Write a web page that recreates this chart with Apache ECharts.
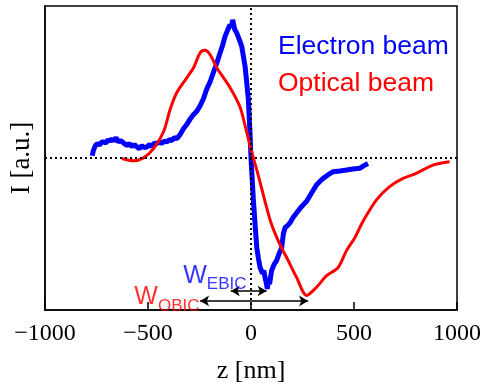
<!DOCTYPE html>
<html><head><meta charset="utf-8">
<script src="https://cdn.jsdelivr.net/npm/echarts@6/dist/echarts.min.js"></script>
<style>html,body{margin:0;padding:0;background:#fff}#c{width:486px;height:389px}</style>
</head><body><div id="c"></div>
<script>
// x axis
const xMin = -1000, xMax = 1000, xStep = 500;
const yMin = -100, yMax = 100;
// Electron beam (EBIC) [z nm, I a.u.]
const electronZ = [-771,-765,-755,-745,-735,-725,-715,-705,-695,-685,-675,-665,-655,-645,-634,-625,-615,-602,-590,-578,-566,-554,-542,-530,-518,-505,-493,-481,-469,-457,-445,-433,-420,-408,-396,-384,-372,-360,-344,-328,-312,-295,-280,-262,-247,-231,-215,-199,-183,-167,-150,-138,-126,-114,-102,-95,-89,-80,-69,-57,-45,-37,-29,-21,-13,-5,0,5,11,20,28,36,44,56,62,68,74,79,85,90,100,112,124,136,149,157,165,177,189,205,221,245,270,294,318,334,350,375,399,431,463,495,528,548,568];
const electronI = [1.5,5,8.3,9.5,8.5,10.5,10.6,9.8,12,11,12.7,11.2,13.5,10.5,11.6,12.5,9.5,8.3,9.5,7.5,8.8,7.3,6.2,8.2,6.8,7.3,8.9,7.6,9.8,9.4,10.8,9.5,11.2,10.6,12,11.5,13.5,12.7,15.5,19.2,22,25.7,28.5,31,34.4,39,45.3,50,56.1,62,69.2,74,80,84,87.6,86,90.9,85,82.2,78,73.5,67,60.5,50,38.8,17.1,0,-12,-26.4,-44,-59,-66,-72,-76,-74,-78.5,-82,-86.1,-80,-83,-74.1,-70,-67.6,-63,-59,-50,-45.9,-44.5,-42.7,-39,-36.2,-32,-28.5,-23,-17.7,-15.5,-13.4,-11,-9,-8.5,-7.9,-7.2,-6.8,-5,-3.6];
// Optical beam (OBIC)
const opticalZ = [-626,-570,-522,-473,-425,-392,-360,-311,-279,-247,-223,-199,-166,-102,-53,-29,-5,3,35,68,100,140,181,221,270,318,367,423,463,504,544,609,673,738,802,883,964];
const opticalI = [-0.3,-1.8,0.1,6.2,17.1,32.2,43.1,52.9,59.4,69.2,70.9,68.1,59.4,46.4,33.4,21.4,8.3,4,-11.2,-28.5,-43.8,-56.8,-67.6,-78.5,-90.4,-85,-77.4,-72,-61.1,-52.4,-41.6,-27.5,-18.8,-13.4,-10.1,-4.7,-2.5];
// width annotations
const ebicArrow = {from: -98, to: 76, level: -87.5};
const obicArrow = {from: -247, to: 277, level: -94};

const zip = (a, b) => a.map((v, i) => [v, b[i]]);
const serif = '"Liberation Serif","Times New Roman",serif';
const sans = '"Liberation Sans",Arial,sans-serif';

function arrowLine(a) {
  return {
    type: 'line', data: [], silent: true,
    markLine: {
      silent: true, symbol: ['arrow', 'arrow'], symbolSize: [8, 9],
      lineStyle: {color: '#000', width: 1.5, type: 'solid'}, label: {show: false},
      data: [[{coord: [a.from, a.level]}, {coord: [a.to, a.level]}]]
    }, z: 5
  };
}
function wLabel(text, color, x, y) {
  return {
    type: 'scatter', data: [[x, y]], symbolSize: 0, silent: true, z: 6,
    label: {
      show: true, position: [0, 0], align: 'right', verticalAlign: 'bottom',
      formatter: '{w|W}{s|' + text + '}',
      rich: {
        w: {fontFamily: sans, fontSize: 25, color: color, lineHeight: 24, verticalAlign: 'top'},
        s: {fontFamily: sans, fontSize: 17, color: color, lineHeight: 17, padding: [13, 0, 0, 0], verticalAlign: 'top'}
      }
    }
  };
}

const chart = echarts.init(document.getElementById('c'), null, {renderer: 'canvas'});
chart.setOption({
  animation: false,
  grid: {left: 44, right: 29, top: 6, bottom: 76, show: true, borderColor: '#000', borderWidth: 1.5, backgroundColor: 'transparent'},
  legend: {
    orient: 'vertical', left: 268, top: 28, itemGap: 10, itemWidth: 0, itemHeight: 0,
    icon: 'rect', selectedMode: false,
    textStyle: {fontFamily: sans, fontSize: 26.5},
    data: [
      {name: 'Electron beam', textStyle: {color: '#0000ff'}},
      {name: 'Optical beam', textStyle: {color: '#ff0000'}}
    ]
  },
  xAxis: {
    type: 'value', min: xMin, max: xMax, interval: xStep,
    axisLine: {onZero: false, lineStyle: {color: '#000', width: 1.5}},
    axisTick: {inside: true, length: 8, lineStyle: {color: '#000', width: 1.5}},
    axisLabel: {fontFamily: serif, fontSize: 24, color: '#000', margin: 12,
      formatter: v => (v < 0 ? '\u2212' + Math.abs(v) : String(v))},
    splitLine: {show: false},
    name: 'z [nm]', nameLocation: 'middle', nameGap: 48,
    nameTextStyle: {fontFamily: serif, fontSize: 26, color: '#000'}
  },
  yAxis: {
    type: 'value', min: yMin, max: yMax,
    axisLine: {show: true, onZero: false, lineStyle: {color: '#000', width: 1.5}},
    axisTick: {show: false}, axisLabel: {show: false}, splitLine: {show: false},
    name: 'I [a.u.]', nameLocation: 'middle', nameGap: 10,
    nameTextStyle: {fontFamily: serif, fontSize: 27, color: '#000'}
  },
  series: [
    {name: 'Electron beam', type: 'line', data: zip(electronZ, electronI), showSymbol: false,
      lineStyle: {color: '#0000ff', width: 5}, itemStyle: {color: '#0000ff'}, z: 2},
    {name: 'Optical beam', type: 'line', data: zip(opticalZ, opticalI), showSymbol: false, smooth: 0.3,
      lineStyle: {color: '#ff0000', width: 3}, itemStyle: {color: '#ff0000'}, z: 3},
    {type: 'line', data: [[0, yMin], [0, yMax]], showSymbol: false, silent: true,
      lineStyle: {color: '#000', width: 2, type: [2, 3]}, z: 4},
    {type: 'line', data: [[xMin, 0], [xMax, 0]], showSymbol: false, silent: true,
      lineStyle: {color: '#000', width: 2, type: [2, 3]}, z: 4},
    arrowLine(ebicArrow),
    arrowLine(obicArrow),
    wLabel('EBIC', '#0000ff', -22, -85),
    wLabel('OBIC', '#ff0000', -250, -99)
  ]
});
</script></body></html>
